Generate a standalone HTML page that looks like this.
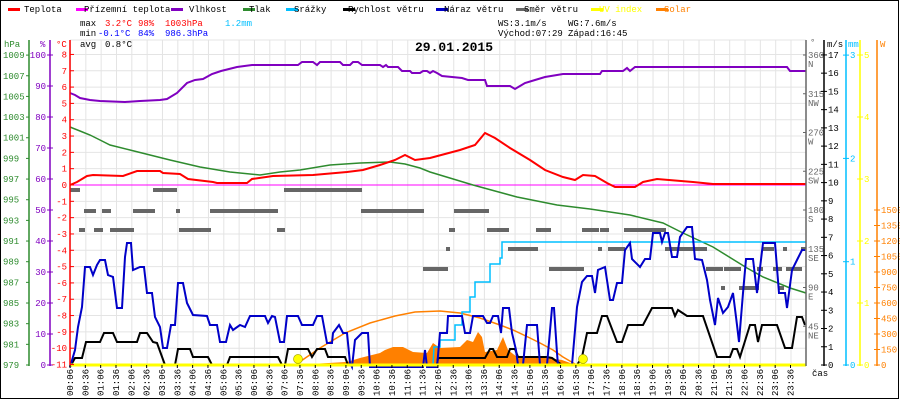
<!DOCTYPE html>
<html><head><meta charset="utf-8"><style>
html,body{margin:0;padding:0;background:#fff;width:900px;height:400px;overflow:hidden}
svg{display:block;font-family:"Liberation Mono",monospace;font-size:9px}
</style></head><body>
<svg id="s" width="900" height="400" xmlns="http://www.w3.org/2000/svg">
<rect x="0" y="0" width="900" height="400" fill="#fff"/>
<g id="grid" stroke="#e4e4e4" stroke-width="1"></g>
<g id="legend"></g>
<g font-size="9">
<text x="80" y="26">max</text><text x="105" y="26" fill="#f00">3.2°C</text><text x="138" y="26" fill="#f00">98%</text><text x="165" y="26" fill="#f00">1003hPa</text><text x="225" y="26" fill="#00bfff">1.2mm</text>
<text x="80" y="36">min</text><text x="98" y="36" fill="#00f">-0.1°C</text><text x="138" y="36" fill="#00f">84%</text><text x="165" y="36" fill="#00f">986.3hPa</text>
<text x="80" y="47">avg</text><text x="105" y="47">0.8°C</text>
<text x="498" y="26">WS:3.1m/s</text><text x="568" y="26">WG:7.6m/s</text>
<text x="498" y="36">Východ:07:29</text><text x="568" y="36">Západ:16:45</text>
</g>
<text x="415" y="51" font-size="13" font-weight="bold">29.01.2015</text>
<g id="gray" fill="#666"></g>
<polygon fill="#ff8000" points="310,365 310,364 347,362 360,358 380,353 385,350 393,347 403,347 413,352 427,353 433,343 440,348 460,347 467,340 473,342 478,332 482,337 485,352 497,350 503,337 508,350 517,357 540,357 562,360 573,364 573,365"/>
<polyline fill="none" stroke="#ff8000" stroke-width="1.5" points="298,363 320,348 345,333 370,323 395,316 415,312 440,311 460,313 480,318 500,325 513,330 530,338 540,343 553,350 563,357 575,364"/>
<line x1="70" y1="185" x2="806" y2="185" stroke="#f0f" stroke-width="1"/>
<polyline fill="none" stroke="#8000c0" stroke-width="2" points="70,93 75,95 80,98 90,100 100,101 125,102 140,101 160,100 167,99 177,93 187,83 195,80 203,79 212,74 221,71 237,67 252,65 298,65 302,62 313,62 317,65 320,62 340,62 343,65 350,65 353,62 358,62 362,65 380,65 383,67 386,65 388,67 398,67 402,71 410,71 412,73 420,73 423,71 427,71 430,73 433,71 437,73 442,76 462,78 468,80 485,80 487,86 510,86 515,89 520,86 525,83 535,80 545,77 563,74 600,74 602,71 623,71 627,68 630,71 635,67 787,67 790,71 806,71"/>
<polyline fill="none" stroke="#2e8b2e" stroke-width="1.5" points="70,127 80,131 90,135 100,140 110,145 130,150 150,155 170,160 200,167 230,172 260,175 280,172 300,170 330,165 360,163 390,162 405,164 420,168 430,172 473,185 517,197 557,205 590,209 630,215 663,223 683,233 713,247 747,268 763,277 790,288 806,293"/>
<polyline fill="none" stroke="#00bfff" stroke-width="1.5" points="70,365 433,365 434,347 440,347 440,340 455,340 455,325 462,325 462,312 470,312 470,297 475,297 475,282 490,282 490,264 500,264 500,258 502,258 502,242 806,242"/>
<polyline fill="none" stroke="#f00" stroke-width="2" points="70,185 77,182 87,176 93,175 123,176 137,171 160,171 163,173 180,174 188,179 213,182 217,183 247,183 252,179 273,176 313,175 347,172 363,170 380,165 395,160 405,155 415,160 430,158 445,154 460,150 475,145 485,133 495,138 510,148 530,160 545,170 563,177 575,180 583,175 595,176 607,183 615,187 635,187 643,182 657,179 693,182 713,184 806,184"/>
<polyline fill="none" stroke="#000" stroke-width="2" points="70,367 75,358 82,358 86,342 100,342 104,333 113,333 117,342 137,342 140,333 147,333 153,342 157,343 165,365 175,365 178,349 190,349 193,357 208,357 212,365 227,365 230,357 278,357 282,365 285,365 288,349 308,349 312,357 317,349 325,349 328,357 345,357 348,365 437,365 438,358 485,358 490,349 493,349 497,357 507,357 510,349 515,349 518,357 547,357 552,358 562,365 577,365 582,357 587,333 597,333 602,316 607,316 617,342 622,342 628,325 643,325 652,308 672,308 675,316 678,310 687,316 703,316 717,357 730,357 733,349 737,349 740,357 750,325 755,325 758,342 762,325 777,325 785,348 792,348 797,317 802,317 805,325"/>
<polyline fill="none" stroke="#0000c8" stroke-width="2" points="70,367 75,350 78,327 82,307 85,267 90,267 93,275 97,265 100,260 105,260 108,275 113,277 117,308 122,308 125,257 127,243 131,243 133,270 140,267 144,267 147,293 152,293 155,317 160,327 163,348 167,348 171,325 175,325 178,283 183,283 187,303 193,315 207,316 210,325 217,325 220,342 226,342 230,325 233,330 240,325 245,327 250,316 265,316 268,323 272,316 275,317 280,342 284,342 287,316 298,316 302,325 313,325 317,316 322,316 327,343 332,343 333,333 339,325 343,333 347,333 350,363 352,367 355,340 362,333 368,333 370,367 423,367 425,350 427,367 437,367 440,333 447,333 448,316 462,316 465,333 470,333 473,316 483,316 487,323 490,323 493,316 498,316 501,333 503,308 509,308 512,333 516,350 518,365 523,365 527,325 537,325 540,365 547,365 552,308 554,308 557,353 558,365 572,365 577,307 582,282 587,276 592,276 595,293 598,270 605,267 610,300 613,300 617,283 622,283 625,250 630,243 632,259 640,267 645,259 650,259 653,233 660,233 662,242 665,233 668,233 672,257 677,257 680,237 687,227 692,227 695,259 702,260 707,280 710,300 715,325 718,298 723,313 728,307 733,293 737,325 739,342 743,293 746,259 753,259 757,293 763,243 775,243 779,293 785,293 787,308 792,270 797,260 802,250 805,250"/>
<line x1="70" y1="365" x2="806" y2="365" stroke="#ff0" stroke-width="3"/>
<circle cx="298" cy="359" r="4.5" fill="#ff0" stroke="#aa0" stroke-width="0.7"/>
<circle cx="583" cy="359" r="4.5" fill="#ff0" stroke="#aa0" stroke-width="0.7"/>
<g id="axes"></g>
<rect x="0.5" y="0.5" width="898" height="398" fill="none" stroke="#000"/>
</svg>
<script>
var NS="http://www.w3.org/2000/svg";
function el(p,t,a,txt){var e=document.createElementNS(NS,t);for(var k in a)e.setAttribute(k,a[k]);if(txt!==undefined)e.textContent=txt;document.getElementById(p).appendChild(e);return e;}
for(var i=0;i<48;i++){var x=70+i*15.33+0.5;el("grid","line",{x1:x,y1:40,x2:x,y2:365});}
for(var t=-11;t<=8;t++){var y=185-t*16.32;el("grid","line",{x1:70,y1:y,x2:806,y2:y});}
el("grid","line",{x1:70,y1:40,x2:806,y2:40});
var L=[["Teplota","#f00",2,25],["Přízemní teplota","#f0f",70,85],["Vlhkost","#8000c0",165,190],["Tlak","#2e8b2e",237,250],["Srážky","#00bfff",280,295],["Rychlost větru","#000",337,349],["Náraz větru","#0000c8",430,445],["Směr větru","#666",510,525],["UV index","#ff0",585,600],["Solar","#ff8000",650,665]];
L.forEach(function(l){el("legend","rect",{x:l[2]+6,y:8,width:12,height:3,fill:l[1]});el("legend","text",{x:l[3]-1,y:12,fill:(l[0]=="UV index"||l[0]=="Solar")?l[1]:"#000"},l[0]);});
var G=[[190,70,80],[190,153,177],[190,284,362],[211,84,96],[211,102,111],[211,133,155],[211,176,180],[211,210,278],[211,361,424],[211,454,489],[230,79,85],[230,94,103],[230,110,134],[230,179,211],[230,277,285],[230,449,455],[230,487,509],[230,536,551],[230,582,599],[230,600,609],[230,624,666],[249,446,450],[249,508,538],[249,598,602],[249,608,625],[249,665,707],[249,762,774],[249,783,787],[249,801,806],[269,423,448],[269,549,584],[269,706,723],[269,724,741],[269,757,763],[269,773,782],[269,786,802],[288,721,725],[288,739,759],[288,779,784]];
G.forEach(function(g){el("gray","rect",{x:g[1],y:g[0]-2,width:g[2]-g[1],height:4});});
function ax(x,c){el("axes","line",{x1:x,y1:40,x2:x,y2:366,stroke:c,"stroke-width":1.5});}
ax(29,"#2e8b2e");ax(50,"#8000c0");ax(70,"#f00");ax(806,"#666");ax(824,"#000");ax(846,"#00bfff");ax(860,"#ff0");ax(877,"#ff8000");
el("axes","text",{x:4,y:47,fill:"#2e8b2e"},"hPa");el("axes","text",{x:40,y:47,fill:"#8000c0"},"%");el("axes","text",{x:56,y:47,fill:"#f00"},"°C");
el("axes","text",{x:810,y:45,fill:"#666"},"°");el("axes","text",{x:827,y:47},"m/s");el("axes","text",{x:848,y:47,fill:"#00bfff"},"mm");el("axes","text",{x:880,y:47,fill:"#ff8000"},"W");
for(var p=979;p<=1009;p+=2){var y=365-(p-979)*10.33;el("axes","line",{x1:26,y1:y,x2:29,y2:y,stroke:"#2e8b2e"});el("axes","text",{x:3,y:y+3,fill:"#2e8b2e"},p);}
for(var h=0;h<=100;h+=10){var y=365-h*3.1;el("axes","line",{x1:47,y1:y,x2:53,y2:y,stroke:"#8000c0"});el("axes","text",{x:46,y:y+3,fill:"#8000c0","text-anchor":"end"},h);}
for(var t=-11;t<=8;t++){var y=185-t*16.32;el("axes","line",{x1:70,y1:y,x2:74,y2:y,stroke:"#f00"});el("axes","text",{x:67,y:y+3,fill:"#f00","text-anchor":"end"},t);}
var D=["","NE","E","SE","S","SW","W","NW","N"];
for(var d=1;d<=8;d++){var y=365-d*38.75;el("axes","line",{x1:803,y1:y,x2:806,y2:y,stroke:"#666"});el("axes","text",{x:808,y:y+3,fill:"#666"},d*45);el("axes","text",{x:808,y:y+12,fill:"#666"},D[d]);}
for(var m=0;m<=17;m++){var y=365-m*18.24;el("axes","line",{x1:821,y1:y,x2:827,y2:y,stroke:"#000"});el("axes","text",{x:828,y:y+3},m);}
for(var m=0;m<=3;m++){var y=365-m*103.3;el("axes","line",{x1:843,y1:y,x2:849,y2:y,stroke:"#00bfff"});el("axes","text",{x:850,y:y+3,fill:"#00bfff"},m);}
for(var m=0;m<=5;m++){var y=365-m*62;el("axes","line",{x1:857,y1:y,x2:863,y2:y,stroke:"#ff0"});el("axes","text",{x:864,y:y+3,fill:"#ff0"},m);}
for(var w=0;w<=1500;w+=150){var y=365-w/150*15.5;el("axes","line",{x1:874,y1:y,x2:880,y2:y,stroke:"#ff8000"});el("axes","text",{x:881,y:y+3,fill:"#ff8000"},w);}
for(var i=0;i<48;i++){var x=70+i*15.33;el("axes","line",{x1:x,y1:365,x2:x,y2:368,stroke:"#000"});var hh=Math.floor(i/2),mm=i%2?"36":"06";var s=(hh<10?"0":"")+hh+":"+mm;el("axes","text",{x:0,y:0,transform:"translate("+(x+3)+",396) rotate(-90)"},s);}
el("axes","text",{x:812,y:376},"čas");
</script>
</body></html>
